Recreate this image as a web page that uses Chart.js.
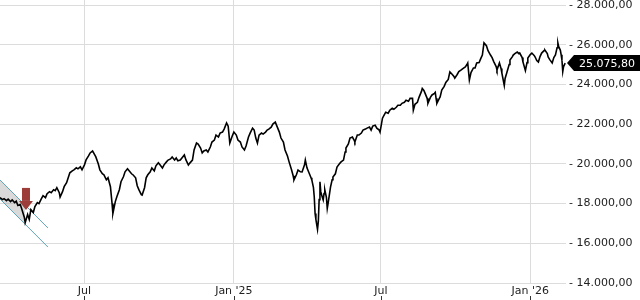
<!DOCTYPE html>
<html>
<head>
<meta charset="utf-8">
<script src="https://cdn.jsdelivr.net/npm/chart.js@4.4.1/dist/chart.umd.min.js"></script>
<style>
  html, body { margin: 0; padding: 0; background: #fff; }
  #wrap { width: 640px; height: 300px; }
</style>
</head>
<body>
<div id="wrap"><canvas id="chart"></canvas></div>
<script>
// x values are days since 2024-01-01
const days = [
  78,81,83,86,88,91,93,96,98,100,
  103,105,108,109,112,114,116,119,121,124,
  126,129,131,134,136,139,141,144,146,148,
  151,152,155,157,160,162,164,167,169,172,
  174,177,179,182,184,187,189,192,194,196,
  199,201,204,206,209,211,214,216,217,220,
  222,225,227,230,232,235,237,240,242,245,
  247,249,252,253,256,258,260,263,265,268,
  270,273,275,278,280,283,285,288,290,293,
  295,297,300,302,305,307,310,312,315,317,
  320,322,325,327,329,332,334,337,339,342,
  344,347,349,352,354,357,359,361,364,366,
  369,371,374,376,379,381,384,386,389,391,
  393,395,397,400,402,405,407,409,412,414,
  417,419,422,424,427,429,432,434,437,439,
  440,443,445,448,450,453,454,456,459,461,
  462,464,465,466,467,469,470,471,472,473,
  475,476,477,478,480,481,482,485,487,488,
  491,493,496,498,501,503,504,507,509,512,
  514,515,518,520,523,525,528,530,533,535,
  537,540,542,545,546,549,551,553,556,558,
  561,563,566,568,571,573,576,578,581,583,
  586,587,589,592,594,597,598,600,601,604,
  605,608,610,613,614,615,616,619,620,622,
  625,627,630,632,635,637,638,641,643,646,
  648,651,653,654,656,658,661,663,665,668,
  670,672,674,677,679,682,684,686,689,690,
  693,695,696,699,700,702,705,706,709,710,
  712,715,717,718,721,722,725,727,728,731,
  733,736,737,739,741,743,745,748,749,752,
  753,755,758,760,762,764,765,766,768,769,
  770,771,772,774
];
const closes = [
  18300,18200,18250,18150,18220,18100,18180,18050,18120,17900,
  17950,17700,17300,17040,17450,17200,17700,17550,17850,18050,
  18000,18250,18400,18300,18500,18600,18550,18700,18650,18800,
  18550,18330,18600,18850,19050,19300,19550,19650,19700,19800,
  19750,19850,19700,19950,20200,20400,20550,20650,20500,20350,
  20000,19700,19500,19450,19200,19300,18850,18000,17500,18100,
  18350,18700,19100,19350,19600,19750,19650,19500,19440,19300,
  18900,18700,18450,18430,18800,19300,19450,19600,19790,19650,
  19900,20050,19950,19790,19950,20100,20190,20250,20350,20200,
  20300,20150,20190,20300,20450,20200,19940,20050,20190,20700,
  21050,21000,20800,20550,20650,20700,20600,20850,21100,21200,
  21450,21350,21550,21600,21750,22060,21900,21050,21400,21600,
  21450,21200,21100,20850,20700,20900,21350,21550,21800,21700,
  21300,21050,21450,21550,21500,21600,21700,21750,21850,22000,
  22100,21900,21600,21300,21100,20700,20400,20100,19700,19400,
  19190,19450,19690,19600,19590,19950,20190,19800,19500,19300,
  19190,18800,18330,17500,17200,16700,17100,18200,19100,18600,
  18300,18180,18500,18685,18300,17750,18000,18830,19200,19340,
  19500,19840,20000,20100,20190,20600,20800,21000,21300,21350,
  21200,21100,21450,21450,21550,21700,21750,21800,21850,21700,
  21900,21950,21800,21700,21600,22300,22450,22600,22550,22700,
  22800,22750,22850,22950,22950,23050,23100,23200,23150,23300,
  23300,22700,23000,23100,23350,23650,23800,23700,23600,23300,
  23050,23350,23470,23550,23600,23300,23050,23300,23370,23720,
  23900,24100,24250,24630,24500,24400,24320,24500,24650,24730,
  24800,24880,25000,25080,24220,24600,24830,24830,25080,25100,
  25300,25480,26090,25950,25700,25480,25350,25150,24900,24730,
  25080,24800,24580,23950,24300,24580,25000,25230,25400,25480,
  25550,25630,25550,25580,25350,25130,24700,25100,25330,25500,
  25580,25450,25380,25200,25130,25400,25580,25700,25730,25550,
  25380,25250,25080,25350,25480,25850,26090,25900,25730,25500,
  25230,24650,24900,25075.8
];

const tickDays = [182, 366, 547, 731];
const tickLabels = ['Jul', "Jan '25", 'Jul', "Jan '26"];
const yTicks = [14000, 16000, 18000, 20000, 22000, 24000, 26000, 28000];
const yTickLabels = ['14.000,00', '16.000,00', '18.000,00', '20.000,00', '22.000,00', '24.000,00', '26.000,00', '28.000,00'];
const lastLabel = '25.075,80';

// trend channel at the start
const channelDays = [78, 137];
const channelUpper = [19190, 16770];
const channelLower = [18230, 15810];
const fillDays = [78, 109];
const fillUpper = [19190, 17920];
const fillLower = [18230, 16960];

// sell signal arrow (tip position)
const arrowDay = 110;
const arrowValue = 17680;

const FONT = '"DejaVu Sans", sans-serif';

const pts = (xs, ys) => xs.map((x, i) => ({ x: x, y: ys[i] }));

const overlay = {
  id: 'overlay',
  afterDatasetsDraw(chart) {
    const { ctx, scales } = chart;
    const ax = scales.x.getPixelForValue(arrowDay);
    const ay = scales.y.getPixelForValue(arrowValue);
    ctx.save();
    ctx.fillStyle = '#9c3d3a';
    ctx.fillRect(ax - 4, ay - 22, 8, 13);
    ctx.beginPath();
    ctx.moveTo(ax - 7, ay - 9);
    ctx.lineTo(ax + 7, ay - 9);
    ctx.lineTo(ax, ay);
    ctx.closePath();
    ctx.fill();
    ctx.restore();
  },
  afterDraw(chart) {
    const { ctx, chartArea, scales } = chart;
    const xs = scales.x, ys = scales.y;
    ctx.save();
    // small tick marks below the date labels
    ctx.strokeStyle = '#333';
    ctx.lineWidth = 1;
    tickDays.forEach(d => {
      const x = Math.round(xs.getPixelForValue(d)) + 0.5;
      ctx.beginPath();
      ctx.moveTo(x, 296);
      ctx.lineTo(x, 300);
      ctx.stroke();
    });
    // last price box
    const y = Math.round(ys.getPixelForValue(closes[closes.length - 1]));
    const x0 = chartArea.right + 1;
    ctx.fillStyle = '#000';
    ctx.beginPath();
    ctx.moveTo(x0, y);
    ctx.lineTo(x0 + 7, y - 8);
    ctx.lineTo(640, y - 8);
    ctx.lineTo(640, y + 8);
    ctx.lineTo(x0 + 7, y + 8);
    ctx.closePath();
    ctx.fill();
    ctx.fillStyle = '#fff';
    ctx.font = '11px ' + FONT;
    ctx.textBaseline = 'middle';
    ctx.textAlign = 'left';
    ctx.fillText(lastLabel, x0 + 12, y + 1);
    ctx.restore();
  }
};

new Chart(document.getElementById('chart'), {
  type: 'line',
  data: {
    datasets: [
      {
        data: pts(days, closes),
        borderColor: '#000',
        borderWidth: 1.6,
        pointRadius: 0,
        tension: 0,
        order: 0
      },
      {
        data: pts(channelDays, channelUpper),
        borderColor: '#5fa3b5',
        borderWidth: 1,
        pointRadius: 0,
        order: 1
      },
      {
        data: pts(channelDays, channelLower),
        borderColor: '#5fa3b5',
        borderWidth: 1,
        pointRadius: 0,
        order: 1
      },
      {
        data: pts(fillDays, fillUpper),
        borderWidth: 0,
        pointRadius: 0,
        order: 2
      },
      {
        data: pts(fillDays, fillLower),
        borderWidth: 0,
        pointRadius: 0,
        fill: '-1',
        backgroundColor: 'rgba(150,150,150,0.35)',
        order: 2
      }
    ]
  },
  options: {
    responsive: true,
    maintainAspectRatio: false,
    animation: false,
    devicePixelRatio: 1,
    layout: { padding: 0 },
    plugins: {
      legend: { display: false },
      tooltip: { enabled: false }
    },
    scales: {
      x: {
        type: 'linear',
        min: 78,
        max: 775,
        afterBuildTicks: s => { s.ticks = tickDays.map(v => ({ value: v })); },
        afterFit: s => { s.height = 17; s.paddingLeft = 0; s.paddingRight = 0; },
        grid: { color: '#dcdcdc', drawTicks: false },
        border: { display: false },
        ticks: {
          padding: 2,
          maxRotation: 0,
          autoSkip: false,
          color: '#222',
          font: { family: FONT, size: 11 },
          callback: v => tickLabels[tickDays.indexOf(v)]
        }
      },
      y: {
        position: 'right',
        min: 14000,
        max: 28252,
        afterBuildTicks: s => { s.ticks = yTicks.map(v => ({ value: v })); },
        afterFit: s => { s.width = 74; s.paddingTop = 0; s.paddingBottom = 0; },
        grid: { color: '#dcdcdc', drawTicks: false },
        border: { display: false },
        ticks: {
          padding: 3,
          color: '#222',
          font: { family: FONT, size: 11 },
          callback: v => '- ' + yTickLabels[yTicks.indexOf(v)]
        }
      }
    }
  },
  plugins: [overlay]
});
</script>
</body>
</html>
